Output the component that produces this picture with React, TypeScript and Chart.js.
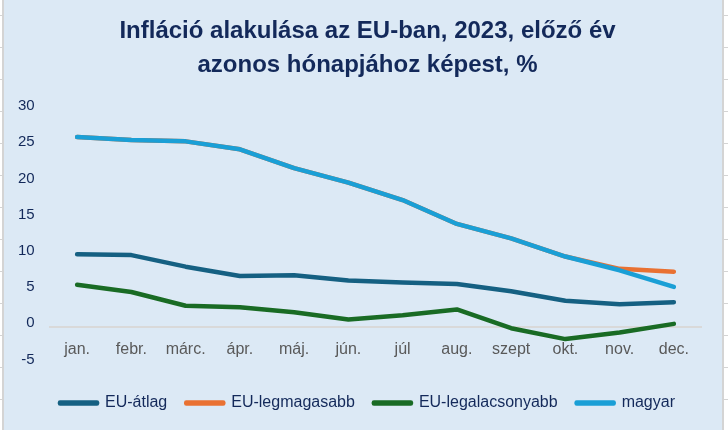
import React, { useEffect, useRef } from "react";
import { Chart, registerables } from "chart.js";

Chart.register(...registerables);

// ---- data ----
const months = ["jan.", "febr.", "márc.", "ápr.", "máj.", "jún.", "júl", "aug.", "szept", "okt.", "nov.", "dec."];
const euAtlag = [10.0, 9.9, 8.3, 7.0, 7.1, 6.4, 6.1, 5.9, 4.9, 3.6, 3.1, 3.4];
const euLegmagasabb = [26.2, 25.8, 25.6, 24.5, 21.9, 19.9, 17.5, 14.2, 12.2, 9.7, 8.0, 7.6];
const euLegalacsonyabb = [5.8, 4.8, 2.9, 2.7, 2.0, 1.0, 1.6, 2.4, -0.2, -1.7, -0.8, 0.4];
const magyar = [26.2, 25.8, 25.6, 24.5, 21.9, 19.9, 17.5, 14.2, 12.2, 9.7, 7.8, 5.5];
const seriesNames = ["EU-átlag", "EU-legmagasabb", "EU-legalacsonyabb", "magyar"];
const yMin = -5;
const yMax = 30;
const yStep = 5;
const titleLines = ["Infláció alakulása az EU-ban, 2023, előző év", "azonos hónapjához képest, %"];

// ---- styles ----
const colors = ["#156082", "#E97132", "#196B24", "#1A9FD6"];
const drawOrder = [2, 3, 1, 0];
const SANS = "'Liberation Sans', Arial, sans-serif";
const NAVY = "#13295A";
const BG = "#DCE9F5";
const SHEET_LINE = "#D4D4D4";

export default function App() {
  const ref = useRef<HTMLCanvasElement>(null);

  useEffect(() => {
    const canvas = ref.current;
    if (!canvas) return;
    const values = [euAtlag, euLegmagasabb, euLegalacsonyabb, magyar];
    const chart = new Chart(canvas, {
      type: "line",
      data: {
        labels: months,
        datasets: values.map((v, i) => ({
          label: seriesNames[i],
          data: v,
          borderColor: colors[i],
          backgroundColor: colors[i],
          borderWidth: 4.5,
          borderCapStyle: "round",
          borderJoinStyle: "round",
          pointRadius: 0,
          pointHoverRadius: 0,
          tension: 0,
          order: drawOrder[i],
        })),
      },
      options: {
        animation: false,
        responsive: true,
        maintainAspectRatio: false,
        events: [],
        layout: { padding: { left: 9, right: 0, top: 0, bottom: 9 } },
        plugins: {
          title: {
            display: true,
            text: titleLines,
            color: NAVY,
            font: { family: SANS, size: 24, weight: "bold", lineHeight: 33.3 / 24 },
            padding: { top: 15, bottom: 27.9 },
          },
          legend: {
            position: "bottom",
            title: { display: true, text: "", padding: 0, font: { size: 13, lineHeight: 1 } },
            labels: {
              sort: (a: any, b: any) => a.datasetIndex - b.datasetIndex,
              boxWidth: 37,
              boxHeight: 1,
              padding: 19,
              color: NAVY,
              font: { family: SANS, size: 16 },
            },
          },
          tooltip: { enabled: false },
        },
        scales: {
          x: {
            position: { y: 0 } as any,
            offset: true,
            grid: { display: false, drawTicks: false },
            border: { display: true, color: "#D9D9D9", width: 2 },
            ticks: {
              color: "#595959",
              font: { family: SANS, size: 16 },
              padding: 13,
              maxRotation: 0,
              autoSkip: false,
            },
          },
          y: {
            min: yMin,
            max: yMax,
            grid: { display: false, drawTicks: false },
            border: { display: false },
            afterFit: (s: any) => {
              s.width = 37;
            },
            ticks: {
              stepSize: yStep,
              color: NAVY,
              font: { family: SANS, size: 15 },
              padding: 15.3,
              labelOffset: -3.5,
            },
          },
          yRight: {
            type: "linear",
            axis: "y",
            position: "right",
            grid: { display: false, drawTicks: false },
            border: { display: false },
            ticks: { display: false },
            afterFit: (s: any) => {
              s.width = 21;
            },
          },
        },
      },
    } as any);
    return () => chart.destroy();
  }, []);

  const sheetRows = Array.from({ length: 13 }, (_, i) => 15 + i * 32);

  return (
    <div style={{ position: "fixed", left: 0, top: 0, width: 728, height: 430, background: "#fff", overflow: "hidden" }}>
      {sheetRows.map((y) => (
        <div key={"l" + y} style={{ position: "absolute", left: 0, top: y, width: 2, height: 1, background: SHEET_LINE }} />
      ))}
      {sheetRows.map((y) => (
        <div key={"r" + y} style={{ position: "absolute", left: 724, top: y, width: 4, height: 1, background: SHEET_LINE }} />
      ))}
      <div style={{ position: "absolute", left: 2, top: 0, width: 2, height: 430, background: SHEET_LINE }} />
      <div style={{ position: "absolute", left: 722, top: 0, width: 2, height: 430, background: SHEET_LINE }} />
      <div style={{ position: "absolute", left: 4, top: 0, width: 718, height: 430, background: BG }}>
        <canvas ref={ref} />
      </div>
    </div>
  );
}
